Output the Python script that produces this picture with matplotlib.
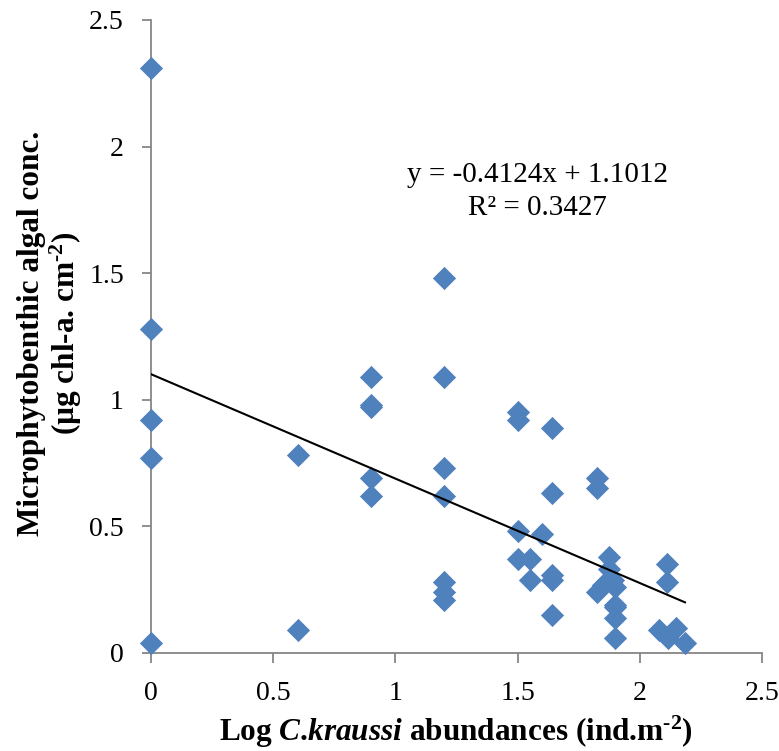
import matplotlib.pyplot as plt
import numpy as np

plt.rcParams["font.family"] = "Liberation Serif"
plt.rcParams["mathtext.fontset"] = "custom"
plt.rcParams["mathtext.rm"] = "Liberation Serif"
plt.rcParams["mathtext.it"] = "Liberation Serif:italic"
plt.rcParams["mathtext.bf"] = "Liberation Serif:bold"
plt.rcParams["mathtext.bfit"] = "Liberation Serif:italic:bold"

# Log C. kraussi abundance vs microphytobenthic chl-a
log_abund = [0, 0, 0, 0, 0,
             0.6, 0.6,
             0.9, 0.9, 0.9, 0.9, 0.9,
             1.2, 1.2, 1.2, 1.2, 1.2, 1.2, 1.2,
             1.5, 1.5, 1.5, 1.5,
             1.55, 1.55,
             1.6,
             1.64, 1.64, 1.64, 1.64, 1.64,
             1.825, 1.825, 1.825,
             1.85,
             1.875, 1.875,
             1.89,
             1.9, 1.9, 1.9, 1.9, 1.9,
             2.11, 2.11,
             2.08, 2.115, 2.15, 2.185]
chl_a = [2.31, 1.28, 0.92, 0.77, 0.04,
         0.78, 0.09,
         1.09, 0.98, 0.97, 0.69, 0.62,
         1.48, 1.09, 0.73, 0.62, 0.28, 0.24, 0.21,
         0.95, 0.92, 0.48, 0.37,
         0.37, 0.29,
         0.47,
         0.89, 0.63, 0.31, 0.29, 0.15,
         0.69, 0.65, 0.24,
         0.27,
         0.38, 0.33,
         0.29,
         0.26, 0.19, 0.18, 0.14, 0.06,
         0.35, 0.28,
         0.09, 0.06, 0.10, 0.04]

# trendline as printed on the chart
slope = -0.4124
intercept = 1.1012
r2 = 0.3427

x = np.array(log_abund)
y = np.array(chl_a)

fig = plt.figure(figsize=(7.79, 7.51), dpi=100)
ax = fig.add_axes([0.1938, 0.1305, 0.7843, 0.8429])

ax.scatter(x, y, marker="D", s=140, color="#4f81bd", zorder=3, clip_on=False, linewidths=0)

xl = np.array([0, x.max()])
ax.plot(xl, slope * xl + intercept, color="black", lw=1.5, zorder=4)

ax.text(1.583, 1.888, "y = %.4fx + %.4f" % (slope, intercept), ha="center", va="center", fontsize=21)
ax.text(1.583, 1.757, "R² = %.4f" % r2, ha="center", va="center", fontsize=21)

ax.set_xlim(0, 2.5)
ax.set_ylim(0, 2.5)
ax.set_xticks([0, 0.5, 1, 1.5, 2, 2.5])
ax.set_xticklabels(["0", "0.5", "1", "1.5", "2", "2.5"])
ax.set_yticks([0, 0.5, 1, 1.5, 2, 2.5])
ax.set_yticklabels(["0", "0.5", "1", "1.5", "2", "2.5"])

for s in ["top", "right"]:
    ax.spines[s].set_visible(False)
for s in ["left", "bottom"]:
    ax.spines[s].set_color("#868686")
    ax.spines[s].set_linewidth(1.3)
ax.tick_params(axis="both", colors="#868686", labelcolor="black", labelsize=20, width=1.3)
ax.tick_params(axis="y", length=6.5, pad=13)
ax.tick_params(axis="x", length=7, pad=13)

ax.set_xlabel("Log $\\mathbfit{C}$.$\\mathbfit{kraussi}$ abundances (ind.m$^{\\mathbf{\u2010 2}}$)",
              fontsize=22.5, fontweight="bold", labelpad=6)
ax.set_ylabel("Microphytobenthic algal conc.\n(µg chl-a. cm$^{\\mathbf{\u2010 2}}$)",
              fontsize=22.5, fontweight="bold", linespacing=1.05)
ax.yaxis.set_label_coords(-0.11, 0.505)

fig.savefig("out.png", dpi=100)
